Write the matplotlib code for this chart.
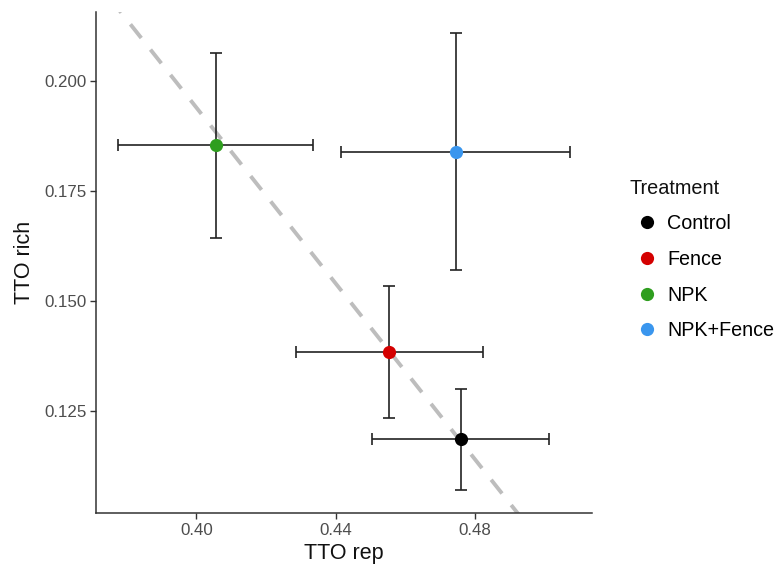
import matplotlib
matplotlib.use("Agg")
import matplotlib.pyplot as plt
from matplotlib.lines import Line2D

plt.rcParams['font.family'] = ['Liberation Sans', 'DejaVu Sans']

# Treatment means with error bar limits
treatments = ["Control", "Fence", "NPK", "NPK+Fence"]
colors = ["#000000", "#d40000", "#2f9e1f", "#3a96ee"]
rep = [0.4759, 0.4553, 0.4056, 0.4746]
rep_lo = [0.4505, 0.4285, 0.3775, 0.4414]
rep_hi = [0.5012, 0.4822, 0.4334, 0.5074]
rich = [0.1186, 0.1383, 0.1855, 0.1839]
rich_lo = [0.1070, 0.1233, 0.1643, 0.1570]
rich_hi = [0.1300, 0.1534, 0.2064, 0.2109]

# reference line y = a + b*x
line_intercept = 0.594
line_slope = -1.0

x_ticks = [0.40, 0.44, 0.48]
y_ticks = [0.125, 0.150, 0.175, 0.200]

fig = plt.figure(figsize=(7.79, 5.73), dpi=100)
ax = fig.add_axes([0.1232, 0.1047, 0.6368, 0.8743])

xlim = (0.3712, 0.5136)
ylim = (0.1018, 0.2157)

# dashed line
xs = [xlim[0], xlim[1]]
ax.plot(xs, [line_intercept + line_slope * v for v in xs], color="#bdbdbd",
        lw=2.8, ls=(0, (4.5, 3.8)), zorder=1, solid_capstyle="butt")

for i, t in enumerate(treatments):
    ax.errorbar(rep[i], rich[i],
                xerr=[[rep[i] - rep_lo[i]], [rep_hi[i] - rep[i]]],
                yerr=[[rich[i] - rich_lo[i]], [rich_hi[i] - rich[i]]],
                fmt="none", ecolor="#222222", elinewidth=1.2, capsize=4,
                capthick=1.2, zorder=2)
    ax.plot(rep[i], rich[i], "o", color=colors[i], ms=9.5, zorder=3,
            markeredgewidth=0)

ax.set_xlim(*xlim)
ax.set_ylim(*ylim)
ax.set_xticks(x_ticks)
ax.set_xticklabels(["%.2f" % v for v in x_ticks])
ax.set_yticks(y_ticks)
ax.set_yticklabels(["%.3f" % v for v in y_ticks])

for s in ["top", "right"]:
    ax.spines[s].set_visible(False)
for s in ["left", "bottom"]:
    ax.spines[s].set_color("#333333")
    ax.spines[s].set_linewidth(1.1)
ax.tick_params(length=4, width=1.0, color="#333333", labelcolor="#4d4d4d",
               labelsize=12.2, pad=3)

ax.set_xlabel("TTO rep", fontsize=15.5, color="#111111", labelpad=4)
ax.set_ylabel("TTO rich", fontsize=15.5, color="#111111", labelpad=6.5)

# legend (title drawn separately)
fig.text(630 / 779, 1 - 188 / 573, "Treatment", fontsize=14.3,
         color="#111111", ha="left", va="center")
handles = [Line2D([], [], ls="none", marker="o", color=c, ms=9.5, markeredgewidth=0)
           for c in colors]
leg = fig.legend(handles, treatments, loc="upper left",
                 bbox_to_anchor=(631 / 779, 1 - 214 / 573), frameon=False,
                 fontsize=14.2, handletextpad=0.22, labelspacing=0.85,
                 borderpad=0, borderaxespad=0, handlelength=1.6)

fig.savefig("out.png", dpi=100)
